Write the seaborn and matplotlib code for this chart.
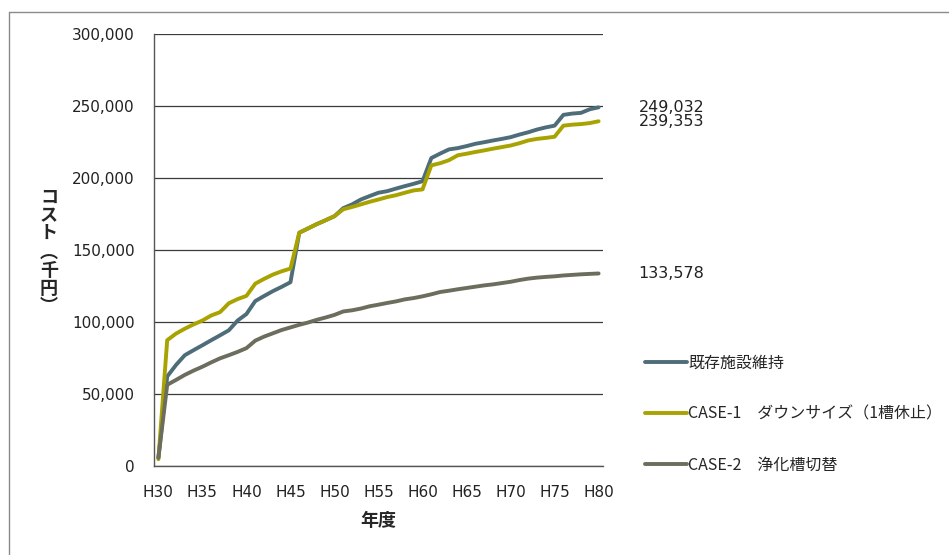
import numpy as np
import pandas as pd
import matplotlib
matplotlib.use("Agg")
import matplotlib.pyplot as plt
from matplotlib.lines import Line2D
import seaborn as sns

# ── Data (千円, cumulative) ──
years = [f"H{n}" for n in range(30, 81)]
tick_labels = ["H30", "H35", "H40", "H45", "H50", "H55", "H60", "H65", "H70", "H75", "H80"]

existing = [
    5500, 62000, 70000, 76800, 80300, 83700, 87200, 90600, 94100, 100900,
    105400, 114400, 117900, 121300, 124300, 127500, 161900, 164900, 167900, 170600,
    173400, 179000, 181600, 185000, 187400, 189700, 190800, 192600, 194300, 195900,
    197700, 213800, 216900, 219800, 220700, 222100, 223700, 224800, 226000, 227100,
    228300, 230100, 231700, 233600, 235100, 236300, 243800, 244700, 245200, 247700,
    249032,
]
case1 = [
    4500, 87200, 91800, 95200, 98200, 100900, 104400, 106700, 112900, 115800,
    118000, 126500, 129800, 132800, 135100, 137000, 161900, 164900, 167900, 170600,
    173400, 178200, 179800, 181600, 183400, 185000, 186700, 188000, 189700, 191300,
    192000, 208700, 210200, 212300, 215700, 216800, 218000, 219100, 220300, 221400,
    222500, 224100, 226000, 227100, 227800, 228600, 236300, 237000, 237400, 238100,
    239353,
]
case2 = [
    5500, 56200, 59600, 63100, 66100, 68800, 71800, 74600, 76800, 79100,
    81700, 86900, 89700, 92000, 94300, 96100, 97900, 99500, 101400, 103000,
    104800, 107200, 108000, 109200, 110800, 111900, 113100, 114200, 115600, 116500,
    117700, 119100, 120700, 121600, 122600, 123500, 124400, 125300, 126000, 126900,
    127800, 129000, 130000, 130700, 131200, 131600, 132200, 132600, 133000, 133300,
    133578,
]

series_names = ["既存施設維持", "CASE-1\u3000ダウンサイズ（1槽休止）", "CASE-2\u3000浄化槽切替"]
colors = ["#4e6d79", "#a8a300", "#6d6d5e"]

df = pd.concat([
    pd.DataFrame({"idx": range(len(years)), "year": years, "cost": vals, "series": name})
    for name, vals in zip(series_names, [existing, case1, case2])
])

# ── Plot ──
sns.set_style("white")
plt.rcParams["font.family"] = ["DejaVu Sans", "Noto Sans CJK JP"]
jp = ["Noto Sans CJK JP", "DejaVu Sans"]

fig = plt.figure(figsize=(9.49, 5.55), dpi=100)
ax = fig.add_axes([154 / 949, 1 - 465.7 / 555, (603 - 154) / 949, (465.7 - 34) / 555])

sns.lineplot(data=df, x="idx", y="cost", hue="series", hue_order=series_names,
             palette=colors, linewidth=2.8, ax=ax)

ax.set_xlim(-0.5, 50.5)
ax.set_ylim(0, 300000)
ax.set_yticks(np.arange(0, 300001, 50000))
ax.set_yticklabels([f"{v:,}" for v in range(0, 300001, 50000)], fontsize=11, color="#222222")
ax.yaxis.grid(True, color="#3a3a3a", lw=0.9)
ax.set_axisbelow(True)

ax.set_xticks([years.index(t) for t in tick_labels])
ax.set_xticklabels(tick_labels, fontsize=11, color="#222222")
ax.set_xticks(np.arange(-0.5, 50, 5), minor=True)
ax.tick_params(axis="x", which="major", length=0, pad=14)
ax.tick_params(axis="x", which="minor", length=5, width=1, color="#555555", direction="out")
ax.tick_params(axis="y", length=6, width=1, color="#555555", direction="out", pad=8)

for s in ["top", "right"]:
    ax.spines[s].set_visible(False)
for s in ["left", "bottom"]:
    ax.spines[s].set_color("#555555")
    ax.spines[s].set_linewidth(1)

ax.set_xlabel("年度", fontsize=13, fontweight="bold", family=jp, labelpad=8)
ax.set_ylabel("")
fig.text(49 / 949, 1 - 252 / 555, "\n".join("コスト︵千円︶"), family=jp, fontsize=13,
         fontweight="bold", ha="center", va="center", linespacing=0.95, multialignment="center")

# end value labels
for vals in [existing, case1, case2]:
    ax.annotate(f"{vals[-1]:,}", xy=(len(vals) - 1, vals[-1]), xytext=(40, 0),
                textcoords="offset pixels", ha="left", va="center", fontsize=11.5,
                color="#222222")

handles, labels = ax.get_legend_handles_labels()
leg = ax.legend(handles, labels, loc="upper left", bbox_to_anchor=(631 / 949, 1 - 340 / 555),
                bbox_transform=fig.transFigure, frameon=False, handlelength=2.6,
                handletextpad=0.1, labelspacing=2.15, prop={"family": jp, "size": 11.5})

# chart area border
fig.add_artist(Line2D([9 / 949, 9 / 949], [0, 1 - 12 / 555], transform=fig.transFigure,
                      color="#8a8a8a", lw=1))
fig.add_artist(Line2D([9 / 949, 1], [1 - 12 / 555, 1 - 12 / 555], transform=fig.transFigure,
                      color="#8a8a8a", lw=1))

fig.savefig("out.png", dpi=100)
plt.close()
